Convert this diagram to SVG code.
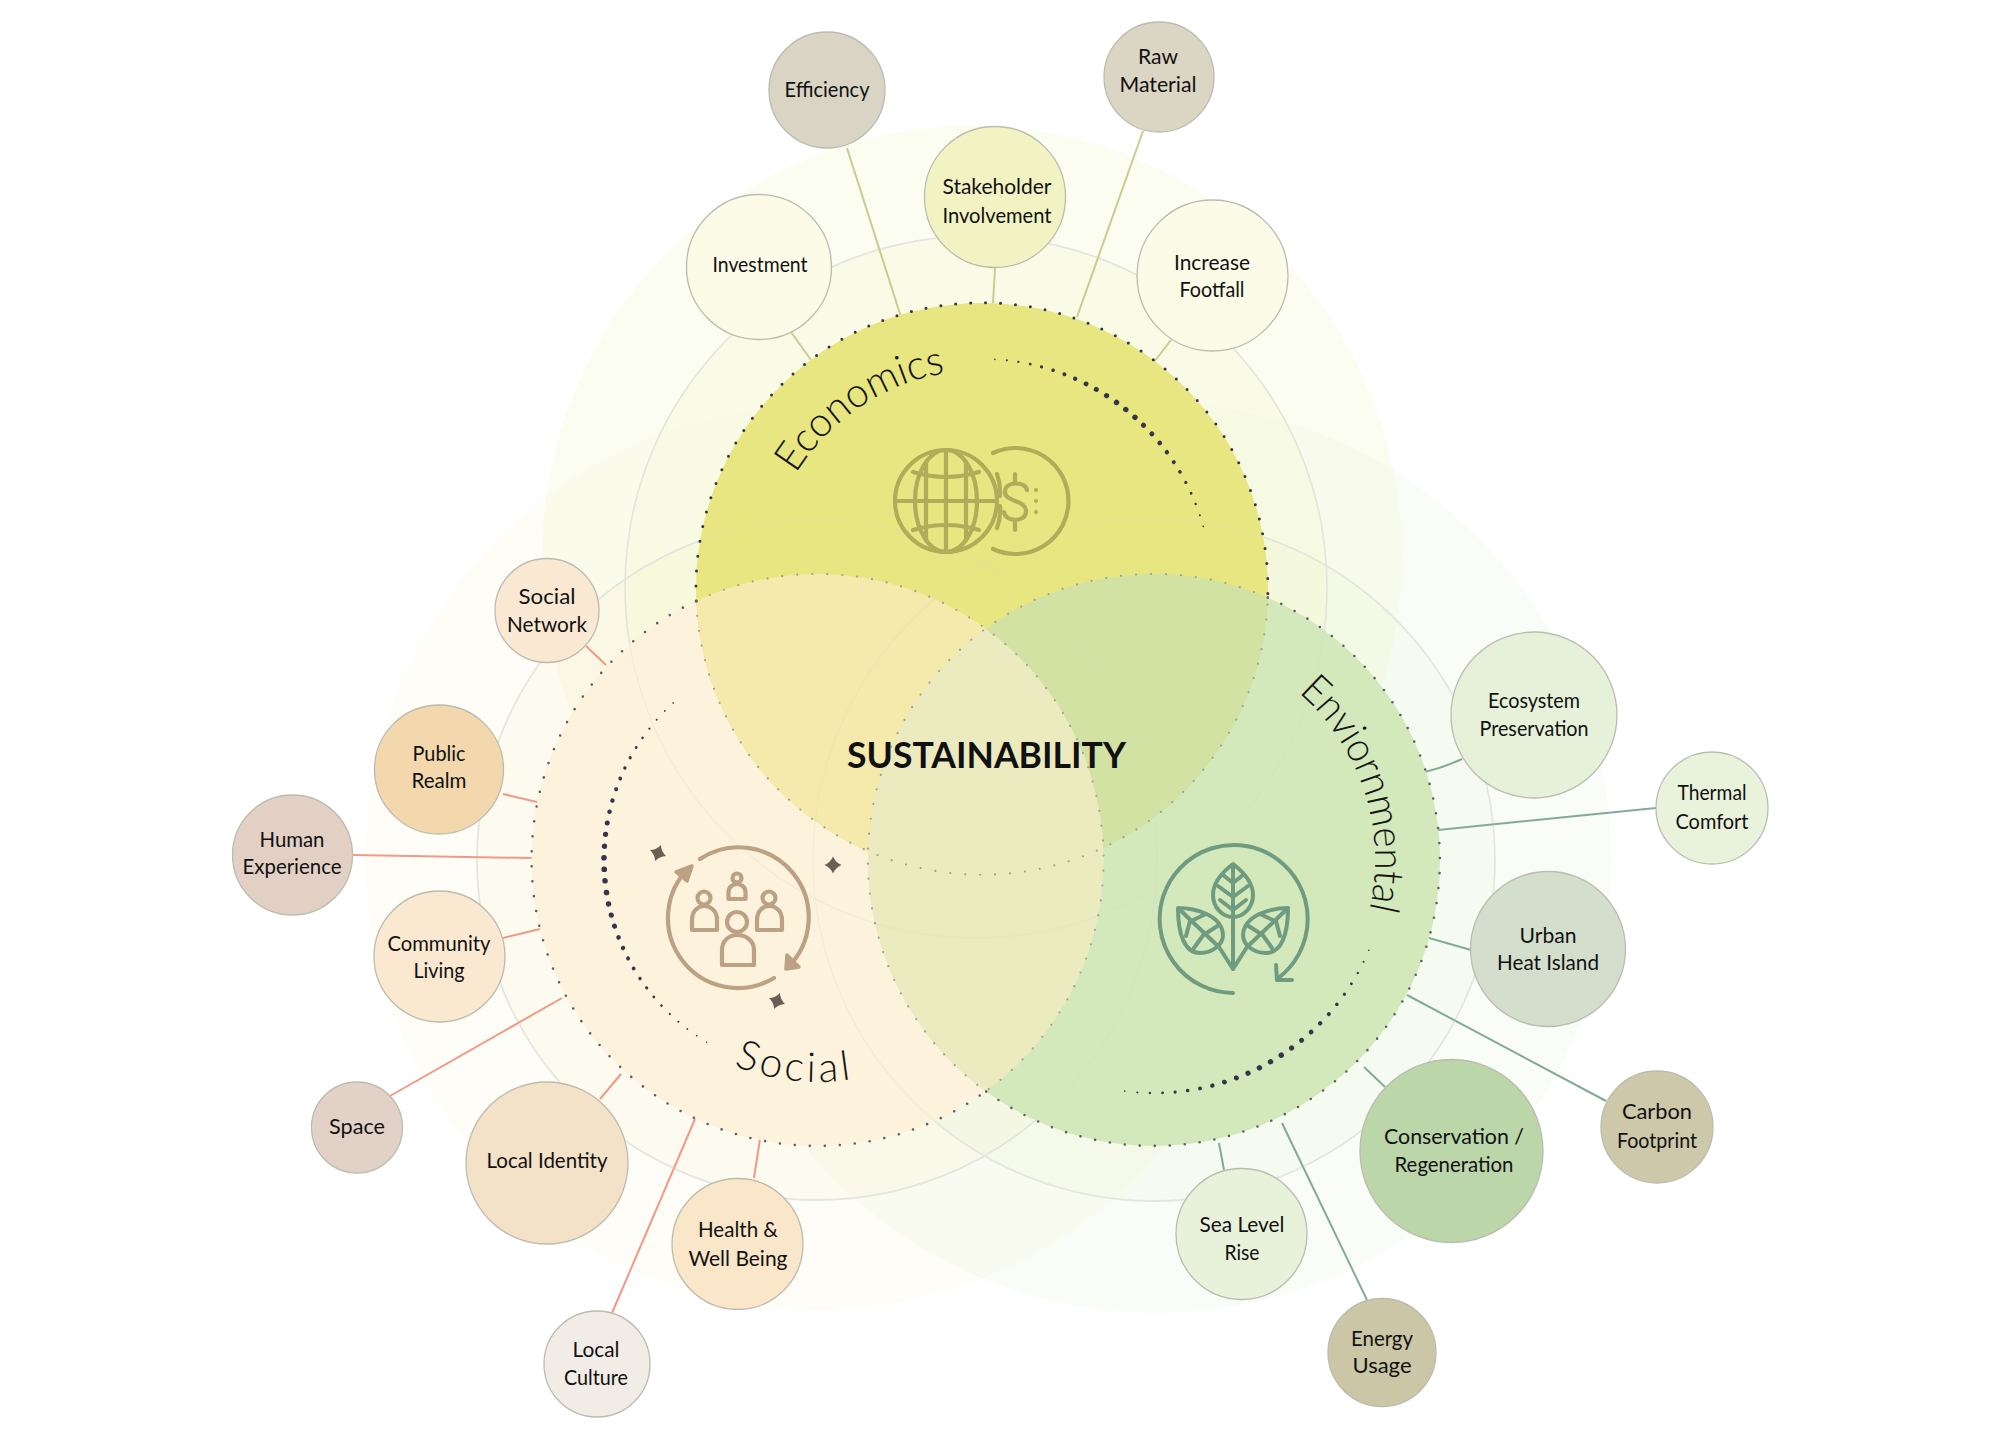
<svg xmlns="http://www.w3.org/2000/svg" width="2000" height="1440" viewBox="0 0 2000 1440">
<style>
.n{stroke:#bcbcae;stroke-width:1.3}
text{font-family:"Lato","Liberation Sans",sans-serif;fill:#111}
.t{font-size:21px;text-anchor:middle}
.h{font-size:41px;fill:#151515;font-weight:300}
.ce{stroke:#c9cc8c}.cs{stroke:#f09a85}.cv{stroke:#82ab96}
#connectors line,#connectors path{stroke-width:2;fill:none}
.ring{fill:none;stroke:#e8eae4;stroke-width:1.8}
.ghost{fill:none;stroke:#dcdcc8;stroke-width:1.2;opacity:.3}
.dot{fill:none;stroke-linecap:round;stroke-dasharray:0 15}
.ic{fill:none;stroke-linecap:round;stroke-linejoin:round}
.d{fill:#34344a}
</style>
<defs>
<clipPath id="clipEcon"><circle cx="982" cy="589" r="286"/></clipPath>
<clipPath id="clipSocial"><circle cx="817.5" cy="860" r="286"/></clipPath>
<path id="pE" d="M766.3,551 A219,219 0 0 1 1020,373.3"/>
<path id="pV" d="M1229.6,652.3 A221,221 0 0 1 1345.4,970.5"/>
<path id="pS" d="M647,1002.7 A222,222 0 0 0 987,1002.7"/>
<path id="star" d="M0,-8.500 Q2.500,-2.500 8.500,0 Q2.500,2.500 0,8.500 Q-2.500,2.500 -8.500,0 Q-2.500,-2.500 0,-8.500Z"/>
</defs>
<rect width="2000" height="1440" fill="#fff"/>

<g id="halos">
<circle cx="817" cy="858" r="452" fill="#fbeecb" fill-opacity=".13"/>
<circle cx="1156" cy="858" r="455" fill="#d6ecc0" fill-opacity=".13"/>
<circle cx="972" cy="556" r="430" fill="#f5f6c8" fill-opacity=".25"/>
<circle cx="817" cy="860" r="340" fill="#fbeecb" fill-opacity=".2"/>
<circle cx="1154" cy="860" r="341" fill="#d6ecc0" fill-opacity=".13"/>
<circle cx="976" cy="587" r="351" fill="#f5f6c8" fill-opacity=".25"/>
<circle class="ring" cx="817" cy="860" r="340"/>
<circle class="ring" cx="1154" cy="860" r="341"/>
<circle class="ring" cx="976" cy="587" r="351"/>
</g>

<g id="connectors">
<line class="ce" x1="791" y1="332" x2="811" y2="360"/>
<line class="ce" x1="847" y1="148" x2="901" y2="317"/>
<line class="ce" x1="995" y1="268" x2="993" y2="303"/>
<line class="ce" x1="1143" y1="131" x2="1077" y2="317"/>
<line class="ce" x1="1171" y1="340" x2="1154" y2="362"/>
<line class="cs" x1="586" y1="646" x2="606" y2="665"/>
<line class="cs" x1="503" y1="794" x2="537" y2="802"/>
<line class="cs" x1="353" y1="855" x2="532" y2="858"/>
<line class="cs" x1="503" y1="938" x2="540" y2="929"/>
<line class="cs" x1="390" y1="1096" x2="562" y2="998"/>
<line class="cs" x1="600" y1="1099" x2="621" y2="1074"/>
<line class="cs" x1="612" y1="1313" x2="695" y2="1119"/>
<line class="cs" x1="754" y1="1178" x2="760" y2="1139"/>
<line class="cv" x1="1224" y1="1170" x2="1219" y2="1143"/>
<line class="cv" x1="1367" y1="1300" x2="1282" y2="1123"/>
<line class="cv" x1="1385" y1="1087" x2="1364" y2="1067"/>
<line class="cv" x1="1606" y1="1101" x2="1407" y2="995"/>
<line class="cv" x1="1471" y1="950" x2="1429" y2="938"/>
<line class="cv" x1="1656" y1="808" x2="1438" y2="830"/>
<path class="cv" d="M1462,759 Q1445,767 1425,772"/>
</g>

<g id="sets">
<circle cx="817.5" cy="860" r="286" fill="#fdf2dc"/>
<circle cx="1154" cy="860" r="286" fill="#d3e8bb"/>
<circle cx="982" cy="589" r="286" fill="#e8e680"/>
<circle cx="817.5" cy="860" r="286" fill="#f5e9ab" clip-path="url(#clipEcon)"/>
<circle cx="1154" cy="860" r="286" fill="#d2e2a3" clip-path="url(#clipEcon)"/>
<circle cx="1154" cy="860" r="286" fill="#ecebbf" clip-path="url(#clipSocial)"/>
<circle class="ghost" cx="817" cy="860" r="340"/>
<circle class="ghost" cx="1154" cy="860" r="341"/>
<circle class="ghost" cx="976" cy="587" r="351"/>
<path class="dot" d="M696.2,601 A286,286 0 0 1 985.750,1091.300" stroke="#a09f98" stroke-width="2.2"/>
<path class="dot" d="M1267.800,597.600 A286,286 0 0 0 985.750,1091.300" stroke="#a09f98" stroke-width="2.2"/>
<path class="dot" d="M696.2,601 A286,286 0 0 0 1267.800,597.600" stroke="#a09f98" stroke-width="2.2"/>
<path class="dot" d="M696.2,601 A286,286 0 1 1 1267.800,597.600" stroke="#34344a" stroke-width="3"/>
<path class="dot" d="M696.2,601 A286,286 0 1 0 985.750,1091.300" stroke="#5f5f68" stroke-width="2.6"/>
<path class="dot" d="M1267.800,597.600 A286,286 0 1 1 985.750,1091.300" stroke="#5f5f68" stroke-width="2.6"/>
</g>

<g id="arc-economics" class="d">
<circle cx="982" cy="359" r=".8" transform="rotate(3.2 982 589)"/><circle cx="982" cy="359" r="1" transform="rotate(6.2 982 589)"/><circle cx="982" cy="359" r="1.2" transform="rotate(9.1 982 589)"/><circle cx="982" cy="359" r="1.4" transform="rotate(12.1 982 589)"/><circle cx="982" cy="359" r="1.6" transform="rotate(15 982 589)"/><circle cx="982" cy="359" r="1.8" transform="rotate(18 982 589)"/><circle cx="982" cy="359" r="2" transform="rotate(21 982 589)"/><circle cx="982" cy="359" r="2.2" transform="rotate(23.9 982 589)"/><circle cx="982" cy="359" r="2.4" transform="rotate(26.9 982 589)"/><circle cx="982" cy="359" r="2.5" transform="rotate(29.8 982 589)"/><circle cx="982" cy="359" r="2.6" transform="rotate(32.8 982 589)"/><circle cx="982" cy="359" r="2.7" transform="rotate(35.8 982 589)"/><circle cx="982" cy="359" r="2.7" transform="rotate(38.7 982 589)"/><circle cx="982" cy="359" r="2.7" transform="rotate(41.7 982 589)"/><circle cx="982" cy="359" r="2.6" transform="rotate(44.6 982 589)"/><circle cx="982" cy="359" r="2.5" transform="rotate(47.6 982 589)"/><circle cx="982" cy="359" r="2.4" transform="rotate(50.6 982 589)"/><circle cx="982" cy="359" r="2.2" transform="rotate(53.5 982 589)"/><circle cx="982" cy="359" r="2" transform="rotate(56.5 982 589)"/><circle cx="982" cy="359" r="1.8" transform="rotate(59.4 982 589)"/><circle cx="982" cy="359" r="1.6" transform="rotate(62.4 982 589)"/><circle cx="982" cy="359" r="1.4" transform="rotate(65.4 982 589)"/><circle cx="982" cy="359" r="1.2" transform="rotate(68.3 982 589)"/><circle cx="982" cy="359" r="1" transform="rotate(71.3 982 589)"/><circle cx="982" cy="359" r=".8" transform="rotate(74.2 982 589)"/>
</g>
<g id="arc-environmental" class="d">
<circle cx="1154" cy="627" r=".8" transform="rotate(112.8 1154 860)"/><circle cx="1154" cy="627" r="1" transform="rotate(115.9 1154 860)"/><circle cx="1154" cy="627" r="1.2" transform="rotate(119 1154 860)"/><circle cx="1154" cy="627" r="1.4" transform="rotate(122.1 1154 860)"/><circle cx="1154" cy="627" r="1.6" transform="rotate(125.2 1154 860)"/><circle cx="1154" cy="627" r="1.8" transform="rotate(128.3 1154 860)"/><circle cx="1154" cy="627" r="2" transform="rotate(131.4 1154 860)"/><circle cx="1154" cy="627" r="2.2" transform="rotate(134.5 1154 860)"/><circle cx="1154" cy="627" r="2.4" transform="rotate(137.6 1154 860)"/><circle cx="1154" cy="627" r="2.5" transform="rotate(140.7 1154 860)"/><circle cx="1154" cy="627" r="2.6" transform="rotate(143.8 1154 860)"/><circle cx="1154" cy="627" r="2.7" transform="rotate(146.9 1154 860)"/><circle cx="1154" cy="627" r="2.7" transform="rotate(150 1154 860)"/><circle cx="1154" cy="627" r="2.7" transform="rotate(153.1 1154 860)"/><circle cx="1154" cy="627" r="2.6" transform="rotate(156.2 1154 860)"/><circle cx="1154" cy="627" r="2.5" transform="rotate(159.3 1154 860)"/><circle cx="1154" cy="627" r="2.4" transform="rotate(162.4 1154 860)"/><circle cx="1154" cy="627" r="2.2" transform="rotate(165.5 1154 860)"/><circle cx="1154" cy="627" r="2" transform="rotate(168.6 1154 860)"/><circle cx="1154" cy="627" r="1.8" transform="rotate(171.7 1154 860)"/><circle cx="1154" cy="627" r="1.6" transform="rotate(174.8 1154 860)"/><circle cx="1154" cy="627" r="1.4" transform="rotate(177.9 1154 860)"/><circle cx="1154" cy="627" r="1.2" transform="rotate(181 1154 860)"/><circle cx="1154" cy="627" r="1" transform="rotate(184.1 1154 860)"/><circle cx="1154" cy="627" r=".8" transform="rotate(187.2 1154 860)"/>
</g>
<g id="arc-social" class="d">
<circle cx="817" cy="647" r=".8" transform="rotate(-42.5 817 860)"/><circle cx="817" cy="647" r=".9" transform="rotate(-45.6 817 860)"/><circle cx="817" cy="647" r="1" transform="rotate(-48.8 817 860)"/><circle cx="817" cy="647" r="1.1" transform="rotate(-51.9 817 860)"/><circle cx="817" cy="647" r="1.3" transform="rotate(-55 817 860)"/><circle cx="817" cy="647" r="1.4" transform="rotate(-58.1 817 860)"/><circle cx="817" cy="647" r="1.6" transform="rotate(-61.3 817 860)"/><circle cx="817" cy="647" r="1.7" transform="rotate(-64.4 817 860)"/><circle cx="817" cy="647" r="1.9" transform="rotate(-67.5 817 860)"/><circle cx="817" cy="647" r="2" transform="rotate(-70.6 817 860)"/><circle cx="817" cy="647" r="2.2" transform="rotate(-73.8 817 860)"/><circle cx="817" cy="647" r="2.3" transform="rotate(-76.9 817 860)"/><circle cx="817" cy="647" r="2.5" transform="rotate(-80 817 860)"/><circle cx="817" cy="647" r="2.6" transform="rotate(-83.1 817 860)"/><circle cx="817" cy="647" r="2.7" transform="rotate(-86.3 817 860)"/><circle cx="817" cy="647" r="2.8" transform="rotate(-89.4 817 860)"/><circle cx="817" cy="647" r="2.8" transform="rotate(-92.5 817 860)"/><circle cx="817" cy="647" r="2.8" transform="rotate(-95.6 817 860)"/><circle cx="817" cy="647" r="2.8" transform="rotate(-98.8 817 860)"/><circle cx="817" cy="647" r="2.7" transform="rotate(-101.9 817 860)"/><circle cx="817" cy="647" r="2.6" transform="rotate(-105 817 860)"/><circle cx="817" cy="647" r="2.5" transform="rotate(-108.1 817 860)"/><circle cx="817" cy="647" r="2.3" transform="rotate(-111.3 817 860)"/><circle cx="817" cy="647" r="2.2" transform="rotate(-114.4 817 860)"/><circle cx="817" cy="647" r="2" transform="rotate(-117.5 817 860)"/><circle cx="817" cy="647" r="1.9" transform="rotate(-120.6 817 860)"/><circle cx="817" cy="647" r="1.7" transform="rotate(-123.8 817 860)"/><circle cx="817" cy="647" r="1.6" transform="rotate(-126.9 817 860)"/><circle cx="817" cy="647" r="1.4" transform="rotate(-130 817 860)"/><circle cx="817" cy="647" r="1.3" transform="rotate(-133.1 817 860)"/><circle cx="817" cy="647" r="1.1" transform="rotate(-136.3 817 860)"/><circle cx="817" cy="647" r="1" transform="rotate(-139.4 817 860)"/><circle cx="817" cy="647" r=".9" transform="rotate(-142.5 817 860)"/><circle cx="817" cy="647" r=".8" transform="rotate(-145.6 817 860)"/><circle cx="817" cy="647" r=".7" transform="rotate(-148.8 817 860)"/>
</g>

<g id="icon-economics" class="ic" stroke="#b0ad5a" stroke-width="4.2">
<circle cx="946" cy="501" r="51"/>
<ellipse cx="946" cy="501" rx="31" ry="51"/>
<path d="M895,501H997M946,450V552M926,462V540M966,462V540"/>
<path d="M913,472 Q946,482 979,472M913,530 Q946,520 979,530"/>
<path d="M993,453 A53,53 0 1 1 993,549"/>
<path d="M997,474 A52,52 0 0 1 1000,496M1000,506 A52,52 0 0 1 997,528"/>
<path d="M1027,490 C1025,481 1006,481 1005,491 C1004,503 1027,499 1026,512 C1025,523 1005,522 1004,512M1015,474V482M1015,522V530"/>
<path stroke-dasharray="0 11" d="M1036,490V513"/>
</g>

<g id="icon-social" class="ic" stroke="#bca184" stroke-width="4.2">
<path d="M700,859 A70,70 0 0 1 787,968"/>
<path d="M774,978 A70,70 0 0 1 690,867"/>
<path d="M676,872 L692,866 L687,881Z" fill="#bca184" stroke-width="3.5"/>
<path d="M787,955 L786,969 L799,967Z" fill="#bca184" stroke-width="3.5"/>
<circle cx="737" cy="922" r="10"/>
<path d="M722,965 V950 C722,940 730,935 737,935 C745,935 754,940 754,950 V965Z"/>
<circle cx="704" cy="898" r="6.5"/><path d="M692,930 V920 C692,911 698,906 704,906 C711,906 717,911 717,920 V930Z"/>
<circle cx="769" cy="898" r="6.5"/><path d="M757,930 V920 C757,911 763,906 769,906 C776,906 782,911 782,920 V930Z"/>
<circle cx="737" cy="878" r="4.5"/><path d="M728.500,899 V892 C728.500,887 733,884 737,884 C741,884 745.500,887 745.500,892 V899Z"/>
</g>
<g id="sparkles" fill="#6b5f55">
<use href="#star" transform="translate(658 853) rotate(20)"/>
<use href="#star" transform="translate(833 865)"/>
<use href="#star" transform="translate(777 1001) rotate(20)"/>
</g>

<g id="icon-environmental" class="ic" stroke="#6f9b80" stroke-width="4">
<path d="M1233,993 A74,74 0 1 1 1277,979"/>
<path d="M1276,965 L1277,980 L1292,980"/>
<path d="M1233,864 C1246,874 1253,884 1253,895 C1253,908 1243,917 1233,917 C1223,917 1213,908 1213,895 C1213,884 1220,874 1233,864Z"/>
<path d="M1233,868V969M1233,883 L1223,875M1233,883 L1243,875M1233,897 L1218,886M1233,897 L1248,886M1233,910 L1220,900M1233,910 L1246,900"/>
<path d="M1178,908 C1195,908 1222,915 1223,935 C1223,945 1212,953 1200,953 C1185,953 1178,935 1178,908Z"/>
<path d="M1288,908 C1271,908 1244,915 1243,935 C1243,945 1254,953 1266,953 C1281,953 1288,935 1288,908Z"/>
<path d="M1180,910 L1219,947 L1233,969 M1286,910 L1247,947 L1233,969"/>
<path d="M1191,921 L1206,914M1205,934 L1219,925M1190,921 L1186,936M1204,934 L1194,948M1275,921 L1260,914M1261,934 L1247,925M1276,921 L1280,936M1262,934 L1272,948"/>
</g>

<g id="labels">
<text class="h"><textPath href="#pE" startOffset="83" textLength="186" lengthAdjust="spacingAndGlyphs">Economics</textPath></text>
<text class="h"><textPath href="#pV" startOffset="80" textLength="240" lengthAdjust="spacingAndGlyphs">Enviornmental</textPath></text>
<text class="h"><textPath href="#pS" startOffset="108" textLength="120" lengthAdjust="spacing">Social</textPath></text>
<text x="986.500" y="768" font-size="37" font-weight="700" text-anchor="middle" textLength="279" lengthAdjust="spacingAndGlyphs">SUSTAINABILITY</text>
</g>

<g id="efficiency"><circle class="n" cx="827" cy="90" r="58" fill="#d9d4c3"/><text class="t" x="827" y="97" textLength="85" lengthAdjust="spacingAndGlyphs">Efficiency</text></g>
<g id="raw-material"><circle class="n" cx="1159" cy="77" r="55" fill="#dbd5c3"/><text class="t" x="1158" y="64" textLength="40" lengthAdjust="spacingAndGlyphs">Raw</text><text class="t" x="1158" y="92" textLength="77" lengthAdjust="spacingAndGlyphs">Material</text></g>
<g id="stakeholder"><circle class="n" cx="995" cy="197" r="70.500" fill="#f1f3c3"/><text class="t" x="997" y="194" textLength="109" lengthAdjust="spacingAndGlyphs">Stakeholder</text><text class="t" x="997" y="223" textLength="109" lengthAdjust="spacingAndGlyphs">Involvement</text></g>
<g id="investment"><circle class="n" cx="759" cy="267" r="72.500" fill="#fbfbe8"/><text class="t" x="760" y="272" textLength="95" lengthAdjust="spacingAndGlyphs">Investment</text></g>
<g id="increase-footfall"><circle class="n" cx="1212.500" cy="275.500" r="75.500" fill="#fbfbe8"/><text class="t" x="1212" y="270" textLength="76" lengthAdjust="spacingAndGlyphs">Increase</text><text class="t" x="1212" y="297" textLength="65" lengthAdjust="spacingAndGlyphs">Footfall</text></g>
<g id="social-network"><circle class="n" cx="547" cy="610.500" r="52" fill="#f9e9d2"/><text class="t" x="547" y="604" textLength="57" lengthAdjust="spacingAndGlyphs">Social</text><text class="t" x="547" y="632" textLength="80" lengthAdjust="spacingAndGlyphs">Network</text></g>
<g id="public-realm"><circle class="n" cx="439" cy="769.500" r="64.500" fill="#f3d8ae"/><text class="t" x="439" y="761" textLength="53" lengthAdjust="spacingAndGlyphs">Public</text><text class="t" x="439" y="788" textLength="55" lengthAdjust="spacingAndGlyphs">Realm</text></g>
<g id="human-experience"><circle class="n" cx="292.500" cy="855" r="60" fill="#e2d0c5"/><text class="t" x="292" y="847" textLength="65" lengthAdjust="spacingAndGlyphs">Human</text><text class="t" x="292" y="874" textLength="99" lengthAdjust="spacingAndGlyphs">Experience</text></g>
<g id="community-living"><circle class="n" cx="439.500" cy="956.500" r="65.500" fill="#fae9d0"/><text class="t" x="439" y="951" textLength="103" lengthAdjust="spacingAndGlyphs">Community</text><text class="t" x="439" y="978" textLength="51" lengthAdjust="spacingAndGlyphs">Living</text></g>
<g id="space"><circle class="n" cx="357" cy="1127.500" r="45.500" fill="#e2d1c6"/><text class="t" x="357" y="1134" textLength="56" lengthAdjust="spacingAndGlyphs">Space</text></g>
<g id="local-identity"><circle class="n" cx="547" cy="1163" r="81" fill="#f3e1c8"/><text class="t" x="547" y="1168" textLength="121" lengthAdjust="spacingAndGlyphs">Local Identity</text></g>
<g id="health"><circle class="n" cx="737.500" cy="1244" r="65.500" fill="#fae6c9"/><text class="t" x="738" y="1237" textLength="80" lengthAdjust="spacingAndGlyphs">Health &amp;</text><text class="t" x="738" y="1266" textLength="99" lengthAdjust="spacingAndGlyphs">Well Being</text></g>
<g id="local-culture"><circle class="n" cx="597" cy="1364" r="53" fill="#f2ece6"/><text class="t" x="596" y="1357" textLength="47" lengthAdjust="spacingAndGlyphs">Local</text><text class="t" x="596" y="1385" textLength="64" lengthAdjust="spacingAndGlyphs">Culture</text></g>
<g id="sea-level-rise"><circle class="n" cx="1241.500" cy="1234" r="65.500" fill="#e8f2da"/><text class="t" x="1242" y="1232" textLength="85" lengthAdjust="spacingAndGlyphs">Sea Level</text><text class="t" x="1242" y="1260" textLength="35" lengthAdjust="spacingAndGlyphs">Rise</text></g>
<g id="energy-usage"><circle class="n" cx="1382" cy="1352.500" r="54" fill="#cbc6a6"/><text class="t" x="1382" y="1346" textLength="62" lengthAdjust="spacingAndGlyphs">Energy</text><text class="t" x="1382" y="1373" textLength="59" lengthAdjust="spacingAndGlyphs">Usage</text></g>
<g id="conservation"><circle class="n" cx="1451.500" cy="1151" r="91.500" fill="#bbd6a9"/><text class="t" x="1454" y="1144" textLength="140" lengthAdjust="spacingAndGlyphs">Conservation /</text><text class="t" x="1454" y="1172" textLength="119" lengthAdjust="spacingAndGlyphs">Regeneration</text></g>
<g id="carbon-footprint"><circle class="n" cx="1657" cy="1127" r="56" fill="#cdc8a9"/><text class="t" x="1657" y="1119" textLength="70" lengthAdjust="spacingAndGlyphs">Carbon</text><text class="t" x="1657" y="1148" textLength="80" lengthAdjust="spacingAndGlyphs">Footprint</text></g>
<g id="ecosystem"><circle class="n" cx="1534" cy="715" r="83" fill="#e6f1d9"/><text class="t" x="1534" y="708" textLength="92" lengthAdjust="spacingAndGlyphs">Ecosystem</text><text class="t" x="1534" y="736" textLength="109" lengthAdjust="spacingAndGlyphs">Preservation</text></g>
<g id="thermal-comfort"><circle class="n" cx="1712" cy="808" r="56" fill="#e9f2da"/><text class="t" x="1712" y="800" textLength="69" lengthAdjust="spacingAndGlyphs">Thermal</text><text class="t" x="1712" y="829" textLength="73" lengthAdjust="spacingAndGlyphs">Comfort</text></g>
<g id="urban-heat"><circle class="n" cx="1548" cy="949" r="77.500" fill="#d3dfcc"/><text class="t" x="1548" y="943" textLength="57" lengthAdjust="spacingAndGlyphs">Urban</text><text class="t" x="1548" y="970" textLength="102" lengthAdjust="spacingAndGlyphs">Heat Island</text></g>
</svg>
